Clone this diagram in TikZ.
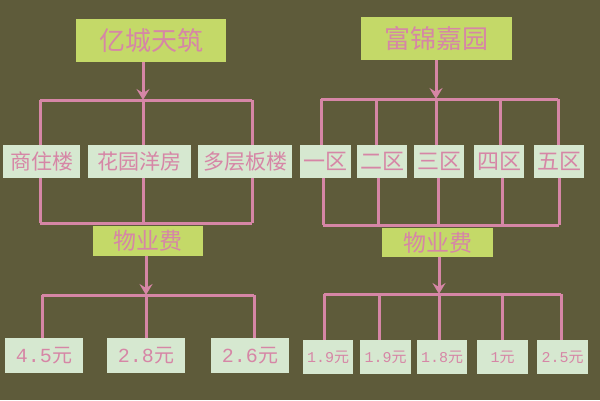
\documentclass[tikz,border=0pt]{standalone}
\usepackage{fontspec}
\newfontfamily\cjk{Noto Sans CJK SC}
\newfontfamily\mono{Liberation Mono}
\usetikzlibrary{arrows.meta}
\definecolor{bg}{RGB}{94,91,58}
\definecolor{lgreen}{RGB}{196,217,104}
\definecolor{pale}{RGB}{214,232,208}
\definecolor{pinkc}{RGB}{214,134,166}
\begin{document}
\begin{tikzpicture}[x=1pt,y=-1pt,
  head/.style={fill=lgreen, inner sep=0pt, text=pinkc, minimum height=43pt, font=\cjk\fontsize{26}{26}\selectfont},
  fee/.style={fill=lgreen, inner sep=0pt, text=pinkc, minimum width=110pt, minimum height=30pt, font=\cjk\fontsize{23}{23}\selectfont},
  sub/.style={fill=pale, inner sep=0pt, text=pinkc, minimum height=33pt, font=\cjk\fontsize{21}{21}\selectfont},
  zone/.style={fill=pale, inner sep=0pt, text=pinkc, minimum height=33pt, minimum width=50pt, font=\cjk\fontsize{22}{22}\selectfont},
  price/.style={fill=pale, inner sep=0pt, text=pinkc, minimum height=35pt, minimum width=78pt, font=\fontsize{20}{20}\selectfont},
  sprice/.style={fill=pale, inner sep=0pt, text=pinkc, minimum height=34pt, minimum width=50pt, font=\fontsize{15}{15}\selectfont},
  conn/.style={draw=pinkc, line width=3pt},
  arr/.style={draw=pinkc, line width=3pt, -{Stealth[length=11pt,width=13pt,inset=4pt]}}]
\useasboundingbox[fill=bg] (0,0) rectangle (600,400);

% ---------- left ----------
\node[head, minimum width=150pt] (T1) at (151,40.5) {亿城天筑};
\node[sub, minimum width=77pt] (L1) at (41.5,161.5) {商住楼};
\node[sub, minimum width=103pt] (L2) at (139.5,161.5) {花园洋房};
\node[sub, minimum width=94pt] (L3) at (245,161.5) {多层板楼};
\node[fee] (F1) at (148,240.5) {物业费};
\node[price] (P1) at (44,355.5) {{\mono 4.5}{\cjk 元}};
\node[price] (P2) at (146,355.5) {{\mono 2.8}{\cjk 元}};
\node[price] (P3) at (250,355.5) {{\mono 2.6}{\cjk 元}};

\coordinate (a1) at (143,100);
\coordinate (b1l) at (40,100);
\coordinate (b1r) at (252,100);
\draw[arr] (a1 |- T1.south) -- (a1);
\draw[conn] (b1l) -- (b1r);
\draw[conn] (b1l) -- (b1l |- L1.north);
\draw[conn] (a1) -- (a1 |- L2.north);
\draw[conn] (b1r) -- (b1r |- L3.north);

\coordinate (c1l) at (40,223);
\coordinate (c1m) at (143,223);
\coordinate (c1r) at (252,223);
\draw[conn] (c1l |- L1.south) -- (c1l);
\draw[conn] (c1m |- L2.south) -- (c1m);
\draw[conn] (c1r |- L3.south) -- (c1r);
\draw[conn] (c1l) -- (c1r);

\coordinate (d1) at (146,295);
\coordinate (d1l) at (42,295);
\coordinate (d1r) at (254,295);
\draw[arr] (d1 |- F1.south) -- (d1);
\draw[conn] (d1l) -- (d1r);
\draw[conn] (d1l) -- (d1l |- P1.north);
\draw[conn] (d1) -- (d1 |- P2.north);
\draw[conn] (d1r) -- (d1r |- P3.north);

% ---------- right ----------
\node[head, minimum width=151pt] (T2) at (436.5,38.5) {富锦嘉园};
\node[zone, minimum width=51pt] (Z1) at (325.5,161.5) {一区};
\node[zone] (Z2) at (382,161.5) {二区};
\node[zone] (Z3) at (439,161.5) {三区};
\node[zone] (Z4) at (499,161.5) {四区};
\node[zone] (Z5) at (559,161.5) {五区};
\node[fee, minimum width=111pt, minimum height=29pt] (F2) at (437.5,242.5) {物业费};
\node[sprice] (Q1) at (328,357) {{\mono 1.9}{\cjk 元}};
\node[sprice, minimum width=51pt] (Q2) at (385.5,357) {{\mono 1.9}{\cjk 元}};
\node[sprice] (Q3) at (442,357) {{\mono 1.8}{\cjk 元}};
\node[sprice, minimum width=51pt] (Q4) at (502.5,357) {{\mono 1}{\cjk 元}};
\node[sprice, minimum width=51pt] (Q5) at (562.5,357) {{\mono 2.5}{\cjk 元}};

\coordinate (a2) at (436,99);
\coordinate (a2a) at (321,99);
\coordinate (a2b) at (376,99);
\coordinate (a2d) at (500,99);
\coordinate (a2e) at (558,99);
\draw[arr] (a2 |- T2.south) -- (a2);
\draw[conn] (a2a) -- (a2e);
\draw[conn] (a2a) -- (a2a |- Z1.north);
\draw[conn] (a2b) -- (a2b |- Z2.north);
\draw[conn] (a2) -- (a2 |- Z3.north);
\draw[conn] (a2d) -- (a2d |- Z4.north);
\draw[conn] (a2e) -- (a2e |- Z5.north);

\coordinate (c2a) at (323,225);
\coordinate (c2b) at (378,225);
\coordinate (c2c) at (438,225);
\coordinate (c2d) at (502,225);
\coordinate (c2e) at (559,225);
\draw[conn] (c2a |- Z1.south) -- (c2a);
\draw[conn] (c2b |- Z2.south) -- (c2b);
\draw[conn] (c2c |- Z3.south) -- (c2c);
\draw[conn] (c2d |- Z4.south) -- (c2d);
\draw[conn] (c2e |- Z5.south) -- (c2e);
\draw[conn] (c2a) -- (c2e);

\coordinate (d2) at (439,294);
\coordinate (d2a) at (324,294);
\coordinate (d2b) at (379,294);
\coordinate (d2d) at (502,294);
\coordinate (d2e) at (561,294);
\draw[arr] (d2 |- F2.south) -- (d2);
\draw[conn] (d2a) -- (d2e);
\draw[conn] (d2a) -- (d2a |- Q1.north);
\draw[conn] (d2b) -- (d2b |- Q2.north);
\draw[conn] (d2) -- (d2 |- Q3.north);
\draw[conn] (d2d) -- (d2d |- Q4.north);
\draw[conn] (d2e) -- (d2e |- Q5.north);
\end{tikzpicture}
\end{document}
